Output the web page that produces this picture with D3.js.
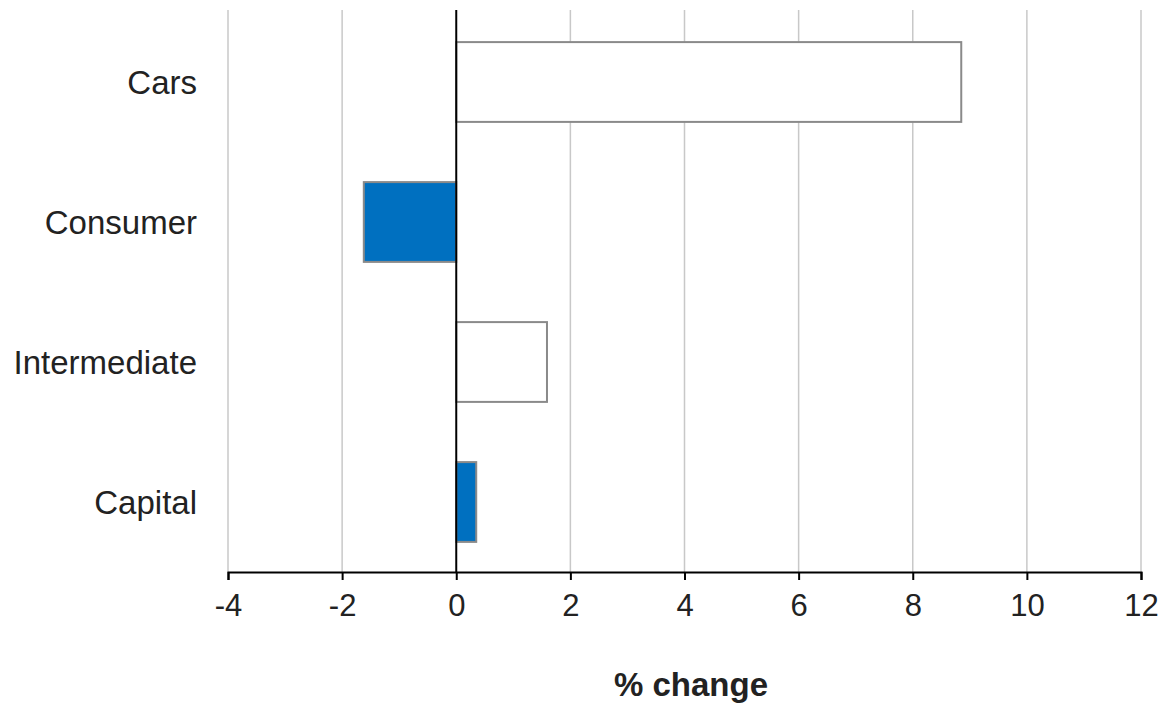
<!DOCTYPE html>
<html><head><meta charset="utf-8">
<script src="https://cdn.jsdelivr.net/npm/d3@7"></script>
<style>body{margin:0;background:#fff;}svg{display:block;font-family:"Liberation Sans",Arial,sans-serif;}</style>
</head><body><svg id="c" width="1163" height="703"></svg>
<script>
const categories = ["Cars","Consumer","Intermediate","Capital"];
const values = [8.85, -1.62, 1.59, 0.35];
const fills = ["#ffffff","#0070c0","#ffffff","#0070c0"];
const tickValues = [-4,-2,0,2,4,6,8,10,12];
const xTitle = "% change";

(function(){
const svg = d3.select("#c");
const mLeft = 228, mRight = 1141, mTop = 10, mBottom = 572;
const x = d3.scaleLinear().domain([-4,12]).range([mLeft,mRight]);
const y = d3.scaleBand().domain(categories).range([mTop+2,mBottom]).paddingInner(0.43).paddingOuter(0.215);

// gridlines
svg.append("g").selectAll("line").data(tickValues.filter(v=>v!==0)).join("line")
  .attr("x1",d=>x(d)).attr("x2",d=>x(d)).attr("y1",mTop).attr("y2",mBottom)
  .attr("stroke","#c8c8c8").attr("stroke-width",1.5);

// bars
svg.append("g").selectAll("rect").data(categories).join("rect")
  .attr("x",(d,i)=>x(Math.min(0,values[i])))
  .attr("width",(d,i)=>Math.abs(x(values[i])-x(0)))
  .attr("y",d=>y(d)).attr("height",y.bandwidth())
  .attr("fill",(d,i)=>fills[i])
  .attr("stroke","#8a8a8a").attr("stroke-width",2);

// x axis
const ax = svg.append("g").attr("transform",`translate(0,${mBottom})`)
  .call(d3.axisBottom(x).tickValues(tickValues).tickSize(8).tickPadding(14).tickFormat(d=>String(d)));
ax.select(".domain").attr("stroke","#000").attr("stroke-width",2);
ax.selectAll(".tick line").attr("stroke","#000").attr("stroke-width",2);
ax.selectAll(".tick text").attr("font-size",31).attr("fill","#222").attr("font-family","'Liberation Sans',Arial,sans-serif");

// zero line
svg.append("line").attr("x1",x(0)).attr("x2",x(0)).attr("y1",mTop).attr("y2",mBottom)
  .attr("stroke","#000").attr("stroke-width",2);

// category labels
svg.append("g").selectAll("text").data(categories).join("text")
  .attr("x",197).attr("y",d=>y(d)+y.bandwidth()/2).attr("dy","0.35em")
  .attr("text-anchor","end").attr("font-size",33).attr("fill","#222").text(d=>d);

// x title
svg.append("text").attr("x",691).attr("y",696).attr("text-anchor","middle")
  .attr("font-size",33).attr("font-weight","bold").attr("fill","#222").text(xTitle);
})();
</script></body></html>
